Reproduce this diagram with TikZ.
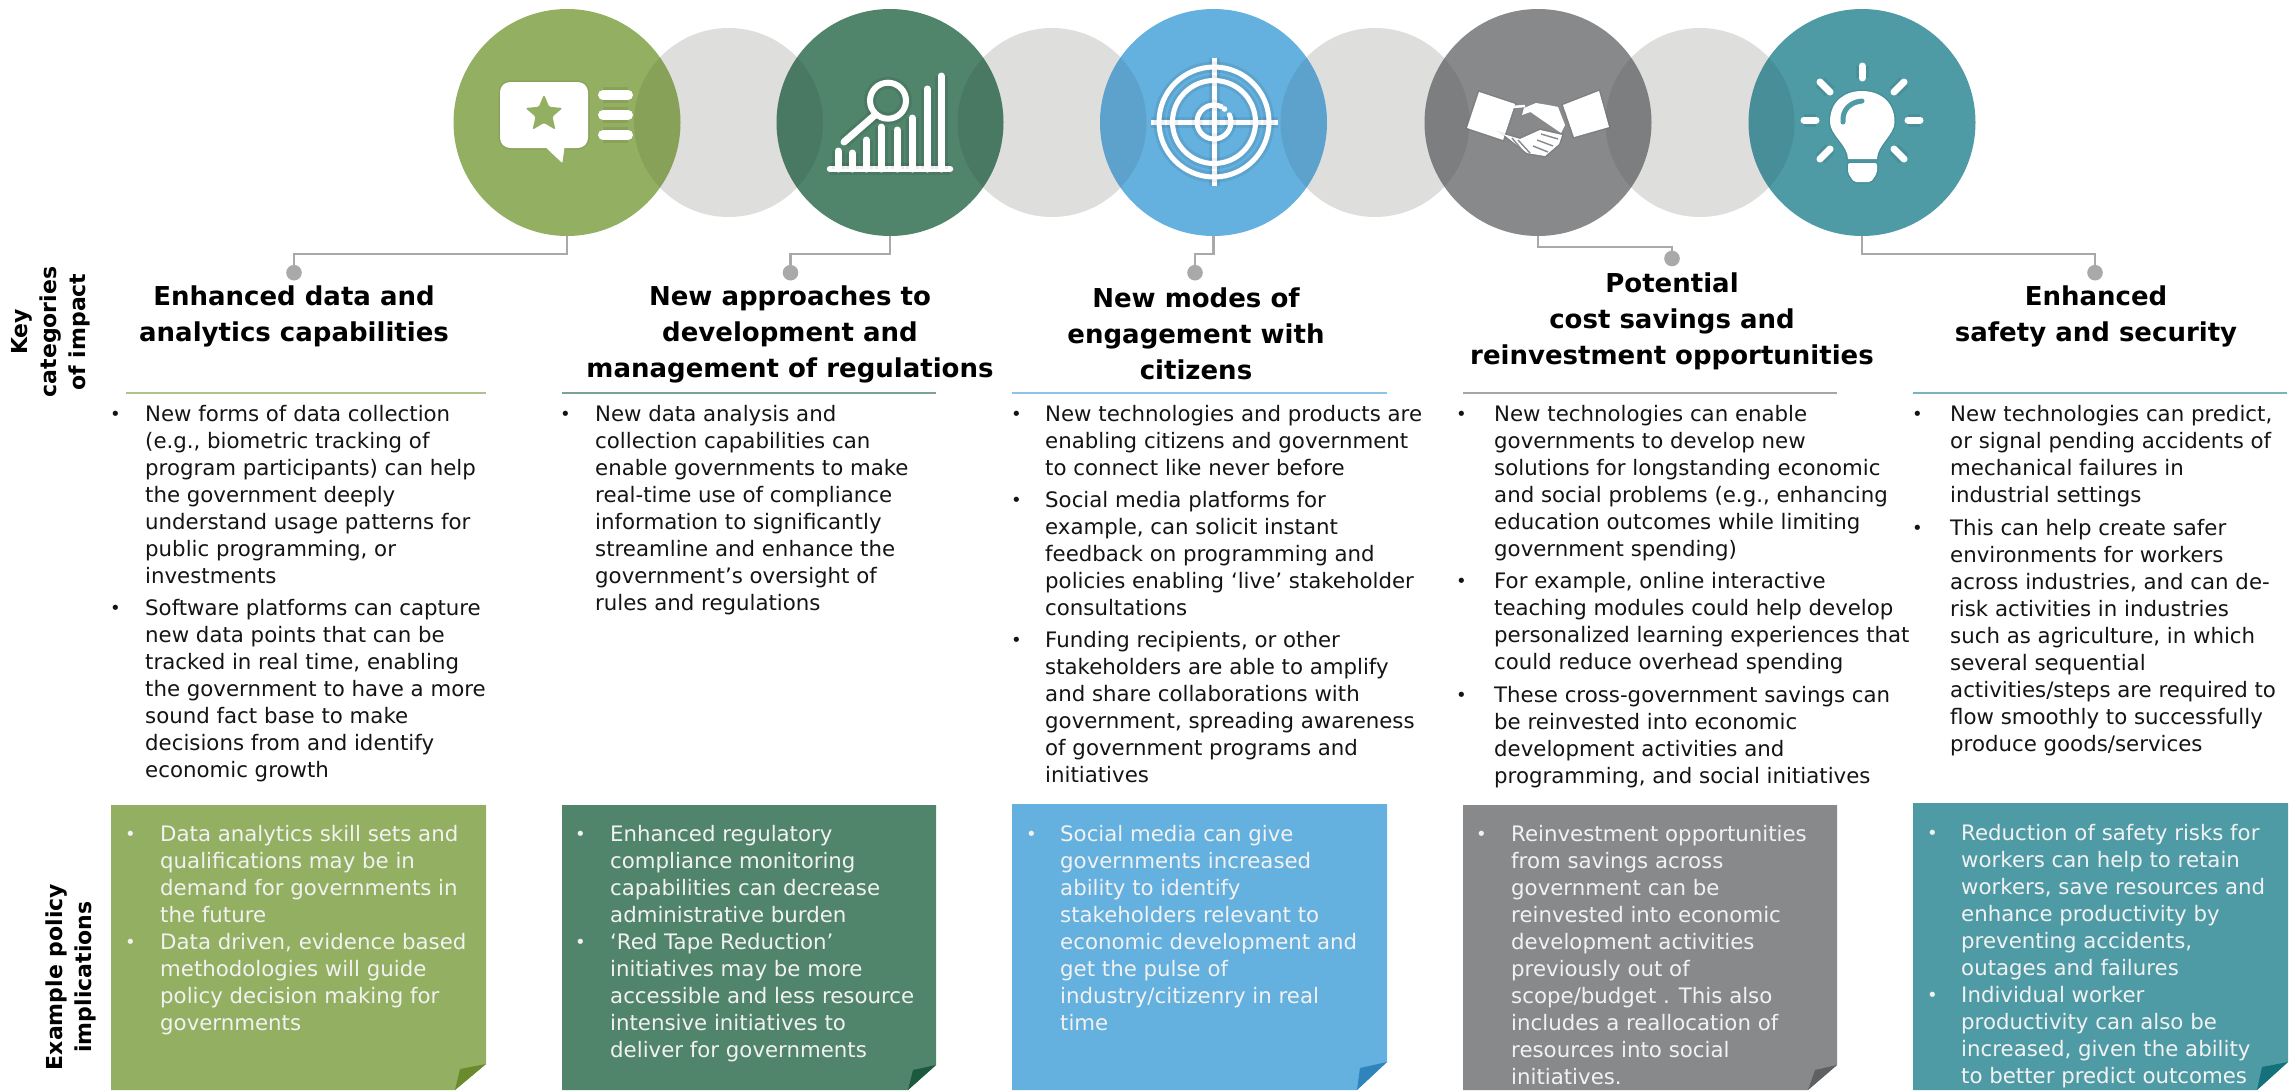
\documentclass[tikz,border=0pt]{standalone}
\usepackage{fontspec}
\setmainfont{DejaVu Sans}
\usetikzlibrary{shapes.geometric}
\definecolor{cgreen}{HTML}{93AF61}
\definecolor{cdgreen}{HTML}{50846B}
\definecolor{cblue}{HTML}{64B0DE}
\definecolor{cgrey}{HTML}{88898B}
\definecolor{cteal}{HTML}{4E9BA5}
\definecolor{fgreen}{HTML}{6A8A2E}
\definecolor{fdgreen}{HTML}{1B5A3F}
\definecolor{fblue}{HTML}{2F84BB}
\definecolor{fgrey}{HTML}{5F6062}
\definecolor{fteal}{HTML}{14707A}
\definecolor{link}{HTML}{A9A9A9}
\definecolor{soft}{HTML}{DEDEDD}
\newcommand{\bu}[1]{\rule{0pt}{20pt}\llap{\makebox[#1pt][l]{\raisebox{1pt}{\fontsize{18}{18}\selectfont •}}}}
\tikzset{
  bigdisc/.style={circle,inner sep=0,minimum size=227pt},
  softdisc/.style={circle,inner sep=0,minimum size=189pt,fill=soft},
  dot/.style={circle,inner sep=0,minimum size=15.6pt,fill=link},
  linkline/.style={draw=link,line width=2.6pt},
  body/.style={anchor=north west,inner sep=0,align=left,text=black!92,font=\fontsize{21.3}{27}\selectfont},
  boxtext/.style={anchor=north west,inner sep=0,align=left,text=white!95!black,font=\fontsize{21.3}{27}\selectfont},
  headline/.style={inner sep=0,align=center,font=\fontsize{26}{36}\selectfont\bfseries},
  sidelabel/.style={inner sep=0,rotate=90,align=center,font=\fontsize{22}{29}\selectfont\bfseries},
  ink/.style={draw=white,line cap=round,line join=round,preaction={draw=black,draw opacity=.07,line width=\pgflinewidth+3pt}},
  glow/.style={fill=white,preaction={draw=black,draw opacity=.07,line width=3pt}},
}
\begin{document}
\begin{tikzpicture}[x=1pt,y=-1pt]
\useasboundingbox (0,0) rectangle (2295,1090);
% soft discs
\node[softdisc] (s1) at (728.5,122.5) {};
\node[softdisc] (s2) at (1052,122.5) {};
\node[softdisc] (s3) at (1375,122.5) {};
\node[softdisc] (s4) at (1700,122.5) {};
% coloured discs
\node[bigdisc,fill=cgreen] (c1) at (567,122.5) {};
\node[bigdisc,fill=cdgreen] (c2) at (890,122.5) {};
\node[bigdisc,fill=cblue] (c3) at (1213.5,122.5) {};
\node[bigdisc,fill=cgrey] (c4) at (1538,122.5) {};
\node[bigdisc,fill=cteal] (c5) at (1862,122.5) {};
% overlaps
\foreach \cx/\sx in {567/728.5,890/728.5,890/1052,1213.5/1052,1213.5/1375,1538/1375,1538/1700,1862/1700}{
  \begin{scope}
    \clip (\cx,122.5) circle[radius=113.5pt];
    \fill[black,fill opacity=.08] (\sx,122.5) circle[radius=94.5pt];
  \end{scope}
}
% connectors
\node[dot] (d1) at (294,272.7) {};
\node[dot] (d2) at (790.5,272.7) {};
\node[dot] (d3) at (1195,272.7) {};
\node[dot] (d4) at (1672,258.5) {};
\node[dot] (d5) at (2095,272.7) {};
\coordinate (j1) at (294,254);
\coordinate (j2) at (790.5,254);
\coordinate (j3) at (1195,254);
\coordinate (j4) at (1672,247);
\coordinate (j5) at (2095,254);
\draw[linkline] (c1.south) |- (j1) -- (d1);
\draw[linkline] (c2.south) |- (j2) -- (d2);
\draw[linkline] (c3.south) |- (j3) -- (d3);
\draw[linkline] (c4.south) |- (j4) -- (d4);
\draw[linkline] (c5.south) |- (j5) -- (d5);
% icon 1
\fill[glow,rounded corners=10pt] (500,82) rectangle (588,148);
\fill[white,line join=round,draw=white,line width=1pt] (546,147) -- (562,162) -- (564,147) -- cycle;
\node[star,star points=5,star point ratio=2.2,fill=cgreen,inner sep=0,minimum size=39pt,rounded corners=1.5pt] (st) at (544,114) {};
\draw[ink,line width=10pt] (603,95) -- (628,95);
\draw[ink,line width=10pt] (603,115) -- (628,115);
\draw[ink,line width=10pt] (603,135) -- (628,135);
% icon 2
\draw[ink,line width=6.5pt] (830,169) -- (950,169);
\foreach \x/\t in {838/151,852/153,866/140,881/127,897/130,912/118,927/89,941/76}{\draw[ink,line width=7pt] (\x,\t) -- (\x,169);}
\draw[ink,line width=6pt] (888,100.7) circle[radius=18pt];
\draw[ink,line width=7pt] (875,115) -- (844,142);
% icon 3
\draw[ink,line width=5pt,line cap=butt] (1150.5,122) -- (1278,122);
\draw[ink,line width=5pt,line cap=butt] (1214,58) -- (1214,186);
\draw[ink,line width=5pt] (1214,122) circle[radius=55pt];
\draw[ink,line width=5pt] (1214,122) circle[radius=41.5pt];
\draw[ink,line width=5pt] (1214,122) ++(65:17pt) arc[start angle=65,end angle=385,radius=17pt];
\fill[white] (1224.5,109) circle[radius=2.8pt];
% icon 4
\fill[glow] (1479,92) -- (1515,104) -- (1503,140) -- (1467,128) -- cycle;
\fill[glow] (1599,91) -- (1609,127) -- (1574,137) -- (1563,105) -- cycle;
\fill[white,line join=round] (1522,115) -- (1524,108) -- (1536,103) -- (1548,105) -- (1558,107) -- (1565,125) -- (1561,133) -- (1542,120) -- (1530.5,112) -- cycle;
\draw[white,line width=2.5pt] (1512,107) -- (1525,106);
\fill[glow] (1503,134) -- (1520,139) -- (1540,130) -- (1562,135) -- (1559,144) -- (1545,156) -- (1527,153) -- cycle;
\foreach \a/\b/\e/\f in {1541/134/1558/139,1537/140/1553/146,1533/146/1548/152,1518/140/1530/153,1512/138/1522/150}{\draw[cgrey,line width=1.4pt] (\a,\b) -- (\e,\f);}
% icon 5
\foreach \a/\b/\e/\f in {1862/66/1862/78,1820/82/1830/92,1904/82/1894/92,1804/120/1816/120,1908/120/1920/120,1830/149/1820/159,1894/149/1904/159}{\draw[ink,line width=7pt] (\a,\b) -- (\e,\f);}
\fill[glow] (1848,159) .. controls (1848,145) and (1830,135) .. (1830,122) .. controls (1830,100) and (1846,91) .. (1862,91) .. controls (1878,91) and (1894.5,100) .. (1894.5,122) .. controls (1894.5,135) and (1877,145) .. (1877,159) -- cycle;
\draw[cteal,line width=5pt,line cap=round] (1843,122) .. controls (1842,110) and (1850,102) .. (1862,101);
\fill[glow,rounded corners=2pt] (1848,163) -- (1877,163) -- (1877,173) -- (1871,182) -- (1854,182) -- (1848,173) -- cycle;
% headlines
\node[headline] (h1) at (294,316) {Enhanced data and\\analytics capabilities};
\node[headline] (h2) at (790,334) {New approaches to\\development and\\management of regulations};
\node[headline] (h3) at (1196,334) {New modes of\\engagement with\\citizens};
\node[headline] (h4) at (1672,321) {Potential\\cost savings and\\reinvestment opportunities};
\node[headline] (h5) at (2096,316) {Enhanced\\safety and security};
% side labels
\node[sidelabel] (k1) at (50.5,332) {Key\\categories\\of impact};
\node[sidelabel] (k2) at (71,977) {Example policy\\implications};
% rules
\draw[line width=2pt,draw=cgreen!75!white] (126,393) -- (486,393);
\draw[line width=2pt,draw=cdgreen!75!white] (562,393) -- (936,393);
\draw[line width=2pt,draw=cblue!75!white] (1012,393) -- (1387,393);
\draw[line width=2pt,draw=cgrey!75!white] (1463,393) -- (1837,393);
\draw[line width=2pt,draw=cteal!75!white] (1913,393) -- (2287,393);
% body text
\node[body] (b1a) at (145,401) {\bu{35}New forms of data collection\\(e.g., biometric tracking of\\program participants) can help\\the government deeply\\understand usage patterns for\\public programming, or\\investments};
\node[body] (b1b) at (145,595) {\bu{35}Software platforms can capture\\new data points that can be\\tracked in real time, enabling\\the government to have a more\\sound fact base to make\\decisions from and identify\\economic growth};
\node[body] (b2a) at (595,401) {\bu{35}New data analysis and\\collection capabilities can\\enable governments to make\\real-time use of compliance\\information to significantly\\streamline and enhance the\\government’s oversight of\\rules and regulations};
\node[body] (b3a) at (1045,401) {\bu{34}New technologies and products are\\enabling citizens and government\\to connect like never before};
\node[body] (b3b) at (1045,487.5) {\bu{34}Social media platforms for\\example, can solicit instant\\feedback on programming and\\policies enabling ‘live’ stakeholder\\consultations};
\node[body] (b3c) at (1045,627.5) {\bu{34}Funding recipients, or other\\stakeholders are able to amplify\\and share collaborations with\\government, spreading awareness\\of government programs and\\initiatives};
\node[body] (b4a) at (1494,401) {\bu{38}New technologies can enable\\governments to develop new\\solutions for longstanding economic\\and social problems (e.g., enhancing\\education outcomes while limiting\\government spending)};
\node[body] (b4b) at (1494,568) {\bu{38}For example, online interactive\\teaching modules could help develop\\personalized learning experiences that\\could reduce overhead spending};
\node[body] (b4c) at (1494,682) {\bu{38}These cross-government savings can\\be reinvested into economic\\development activities and\\programming, and social initiatives};
\node[body] (b5a) at (1950,401) {\bu{38}New technologies can predict,\\or signal pending accidents of\\mechanical failures in\\industrial settings};
\node[body] (b5b) at (1950,515) {\bu{38}This can help create safer\\environments for workers\\across industries, and can de-\\risk activities in industries\\such as agriculture, in which\\several sequential\\activities/steps are required to\\flow smoothly to successfully\\produce goods/services};
% policy boxes
\fill[cgreen] (111,805) -- (486,805) -- (486,1064) -- (455,1090) -- (111,1090) -- cycle;
\fill[fgreen] (486,1064) -- (460,1069) -- (455,1090) -- cycle;
\fill[cdgreen] (562,805) -- (936,805) -- (936,1065) -- (908,1090) -- (562,1090) -- cycle;
\fill[fdgreen] (936,1065) -- (913,1070) -- (908,1090) -- cycle;
\fill[cblue] (1012,804) -- (1387,804) -- (1387,1062) -- (1357,1090) -- (1012,1090) -- cycle;
\fill[fblue] (1387,1062) -- (1360,1068) -- (1357,1090) -- cycle;
\fill[cgrey] (1463,805) -- (1837,805) -- (1837,1065) -- (1808,1090) -- (1463,1090) -- cycle;
\fill[fgrey] (1837,1065) -- (1815,1070) -- (1808,1090) -- cycle;
\fill[cteal] (1913,803) -- (2288,803) -- (2288,1062) -- (2257,1090) -- (1913,1090) -- cycle;
\fill[fteal] (2288,1062) -- (2262,1067) -- (2257,1090) -- cycle;
\node[boxtext] (p1) at (160,821) {\bu{35}Data analytics skill sets and\\qualifications may be in\\demand for governments in\\the future\\\bu{35}Data driven, evidence based\\methodologies will guide\\policy decision making for\\governments};
\node[boxtext] (p2) at (610,821) {\bu{35}Enhanced regulatory\\compliance monitoring\\capabilities can decrease\\administrative burden\\\bu{35}‘Red Tape Reduction’\\initiatives may be more\\accessible and less resource\\intensive initiatives to\\deliver for governments};
\node[boxtext] (p3) at (1060,821) {\bu{34}Social media can give\\governments increased\\ability to identify\\stakeholders relevant to\\economic development and\\get the pulse of\\industry/citizenry in real\\time};
\node[boxtext] (p4) at (1511,821) {\bu{35}Reinvestment opportunities\\from savings across\\government can be\\reinvested into economic\\development activities\\previously out of\\scope/budget . This also\\includes a reallocation of\\resources into social\\initiatives.};
\node[boxtext] (p5) at (1961,820) {\bu{34}Reduction of safety risks for\\workers can help to retain\\workers, save resources and\\enhance productivity by\\preventing accidents,\\outages and failures\\\bu{34}Individual worker\\productivity can also be\\increased, given the ability\\to better predict outcomes};
\end{tikzpicture}
\end{document}
